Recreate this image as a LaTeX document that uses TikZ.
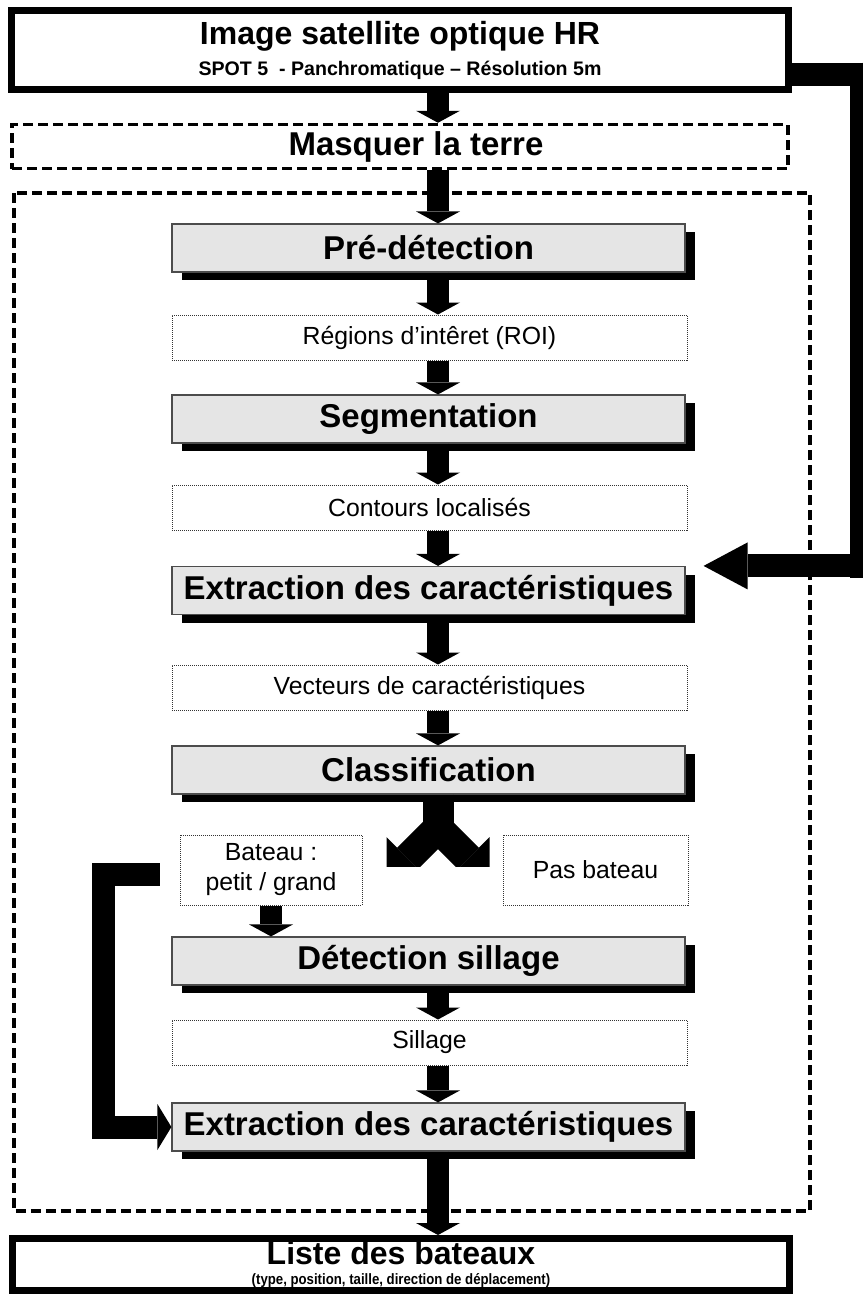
\documentclass[tikz,border=0pt]{standalone}
\usepackage{fontspec}
\setmainfont{Liberation Sans}
\newfontfamily\etroite{Liberation Sans}[FakeStretch=0.88]
\usepackage{tikz}
\usetikzlibrary{arrows.meta,shadows}

\tikzset{
  cadre/.style={draw, line width=3.5pt, minimum width=388.5pt, inner sep=0pt, align=center},
  tirets/.style={draw, line width=1.7pt, dash pattern=on 5pt off 2.5pt},
  etape/.style={draw=black!70, line width=0.6pt, fill=black!10, minimum width=256.5pt, minimum height=24pt, inner sep=0pt,
    font=\bfseries\fontsize{16.5}{18}\selectfont,
    drop shadow={shadow xshift=5pt, shadow yshift=-4pt, fill=black, opacity=1}},
  resultat/.style={draw=black!80, line width=0.5pt, dash pattern=on 0.5pt off 0.5pt, minimum width=257.5pt, minimum height=22.5pt,
    inner sep=0pt, align=center, font=\fontsize{12.4}{15}\selectfont},
  fleche/.style={line width=11pt, -{Triangle[width=22pt, length=6pt, line width=0pt]}},
  bande/.style={line width=11.5pt, line join=miter},
}

\begin{document}
\begin{tikzpicture}[x=0.5pt, y=-0.5pt]
  \useasboundingbox (0,0) rectangle (863,1296);
  % colonne des flèches
  \coordinate (col) at (438,0);

  % Image d'entrée
  \node[cadre, minimum height=39.5pt, font=\bfseries\fontsize{9.8}{15.5}\selectfont] (image) at (400,50)
    {{\fontsize{16}{17}\selectfont Image satellite optique HR}\\ SPOT 5 \ - Panchromatique – Résolution 5m};

  % Masque terre
  \node[tirets, minimum width=388pt, minimum height=21.5pt, font=\bfseries\fontsize{16.5}{18}\selectfont] (masque) at (400,146.5)
    {\hspace*{16pt}Masquer la terre};

  % Cadre de la chaîne de traitement
  \draw[tirets] (14,193) rectangle (810,1211);

  % Etapes et résultats
  \node[etape] (pre) at (428.5,248) {Pré-détection};
  \node[resultat] (roi) at (429.5,337.5) {Régions d'intêret (ROI)};
  \node[etape] (seg) at (428.5,419) {Segmentation};
  \node[resultat] (cont) at (429.5,507.5) {Contours localisés};
  \node[etape] (ext1) at (428.5,590.5) {Extraction des caractéristiques};
  \node[resultat] (vect) at (429.5,687.5) {Vecteurs de caractéristiques};
  \node[etape] (cls) at (428.5,770) {Classification};
  \node[resultat, minimum width=91pt, minimum height=35pt] (bat) at (271,870) {Bateau :\\petit / grand};
  \node[resultat, minimum width=92.5pt, minimum height=35pt] (pas) at (595.5,870) {Pas bateau};
  \node[etape] (sil) at (428.5,961) {Détection sillage};
  \node[resultat] (sill) at (429.5,1042.5) {Sillage};
  \node[etape] (ext2) at (428.5,1127) {Extraction des caractéristiques};

  % Sortie
  \node[cadre, minimum height=26pt, font=\etroite\bfseries\fontsize{7.5}{10}\selectfont] (liste) at (401,1264.5)
    {{\normalfont\bfseries\fontsize{16}{18}\selectfont Liste des bateaux}\\ (type, position, taille, direction de déplacement)};

  % Flèches verticales
  \draw[fleche] (image.south -| col) -- (masque.north -| col);
  \draw[fleche] (masque.south -| col) -- (pre.north -| col);
  \draw[fleche] (pre.south -| col) -- (roi.north -| col);
  \draw[fleche] (roi.south -| col) -- (seg.north -| col);
  \draw[fleche] (seg.south -| col) -- (cont.north -| col);
  \draw[fleche] (cont.south -| col) -- (ext1.north -| col);
  \draw[fleche] (ext1.south -| col) -- (vect.north -| col);
  \draw[fleche] (vect.south -| col) -- (cls.north -| col);
  \draw[fleche] (bat.south) -- (sil.north -| bat.south);
  \draw[fleche] (sil.south -| col) -- (sill.north -| col);
  \draw[fleche] (sill.south -| col) -- (ext2.north -| col);
  \draw[fleche] (ext2.south -| col) -- (liste.north -| col);

  % Fourche après la classification
  \coordinate (fourche) at (438,828);
  \coordinate (vg) at (386.5,879.5);
  \coordinate (vd) at (489.5,879.5);
  \draw[line width=15.5pt] (cls.south -| col) -- ([yshift=-4pt]fourche);
  \begin{scope}
    \clip (360,790) rectangle (520,866);
    \draw[line width=15pt, -{Triangle[width=30pt, length=15pt, line width=0pt]}] (fourche) -- (vg);
    \draw[line width=15pt, -{Triangle[width=30pt, length=15pt, line width=0pt]}] (fourche) -- (vd);
  \end{scope}

  % Retour image -> extraction
  \coordinate (d1) at (856,74.5);
  \coordinate (d2) at (d1 |- ext1.north east);
  \draw[bande] (image.east |- d1) -- ([xshift=3pt]d1);
  \draw[line width=6.5pt] ([yshift=6pt]d1) -- ([yshift=-6pt]d2);
  \draw[bande, shorten >=9pt, -{Triangle[width=23.5pt, length=22pt, line width=0pt]}] ([xshift=3pt]d2) -- (ext1.north east);

  % Retour bateau -> extraction finale
  \coordinate (g1) at (103,874.5);
  \coordinate (g2) at (g1 |- ext2.west);
  \draw[bande, shorten <=10pt, -{Triangle[width=23pt, length=7pt, line width=0pt]}] (bat.west |- g1) -- (g1) -- (g2) -- (ext2.west);
\end{tikzpicture}
\end{document}
